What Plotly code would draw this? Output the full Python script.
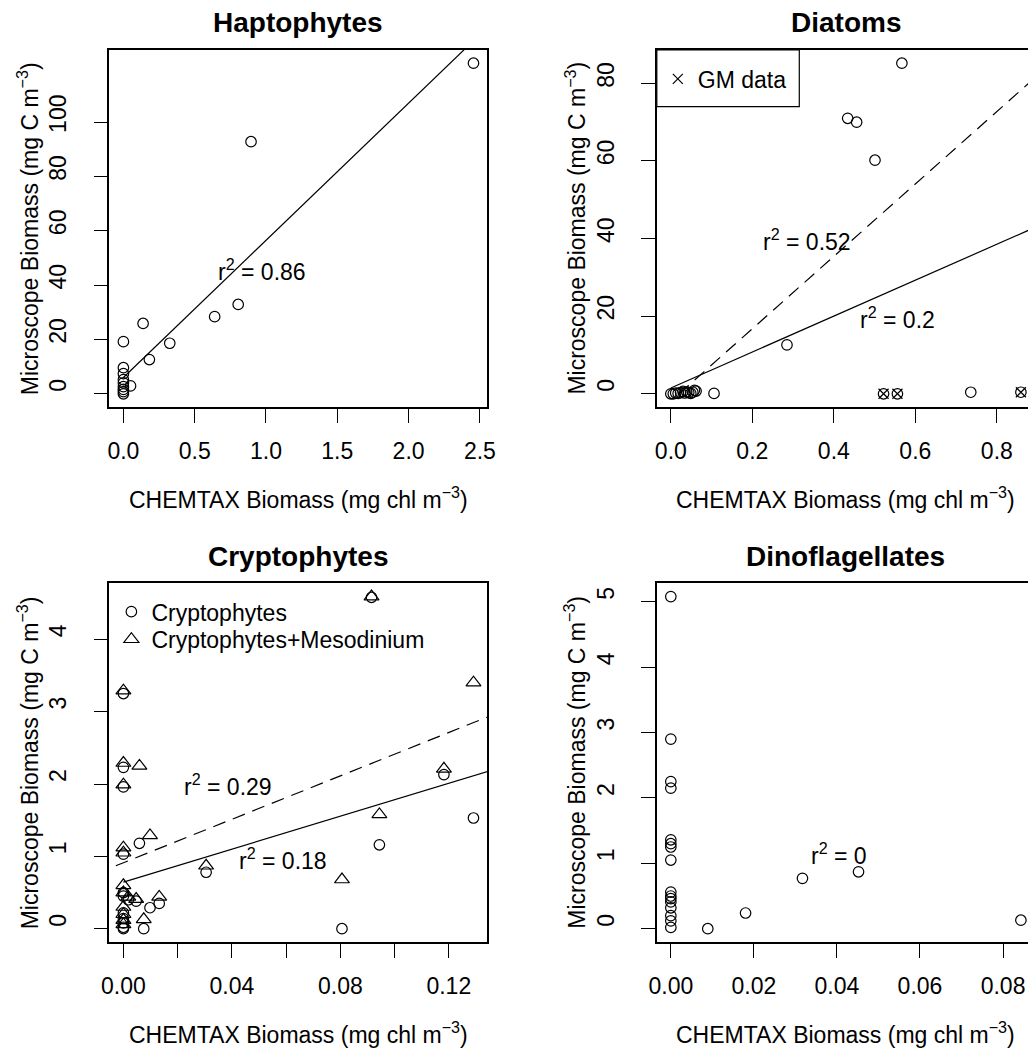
import plotly.graph_objects as go

W, H = 1036, 1059
FONT = "Liberation Sans, Arial, Helvetica, sans-serif"
BASE = 23
TITLE_SIZE = 28

# ---------------- data ----------------
hapto_x = [2.455, 0.895, 0.805, 0.640, 0.138, 0.325, 0.000, 0.182, 0.000, 0.000,
           0.000, 0.000, 0.000, 0.050, 0.000, 0.000, 0.000]
hapto_y = [121.7, 92.8, 32.9, 28.4, 25.9, 18.6, 19.2, 12.6, 9.6, 7.4,
           5.2, 4.0, 2.6, 2.9, 1.6, 0.8, 0.0]
hapto_fit = {"intercept": 6.0, "slope": 50.5, "x": [0.0, 2.455], "r2": "0.86"}
hapto_label = [0.975, 45.5]

diatom_x = [0.567, 0.434, 0.456, 0.501, 0.285, 0.106, 0.736, 0.522, 0.556, 0.859,
            0.000, 0.006, 0.012, 0.018, 0.024, 0.030, 0.034, 0.039, 0.044, 0.049,
            0.054, 0.058, 0.062]
diatom_y = [85.2, 71.0, 70.0, 60.2, 12.6, 0.1, 0.4, 0.0, 0.0, 0.4,
            0.0, 0.0, 0.2, 0.1, 0.3, 0.6, 0.2, 0.5, 0.3, 0.1,
            0.4, 0.9, 0.7]
gm_x = [0.522, 0.556, 0.859]
gm_y = [0.0, 0.0, 0.4]
diatom_fit_all = {"intercept": 1.5, "slope": 46.3, "x": [0.0, 0.95], "r2": "0.2"}
diatom_fit_nogm = {"intercept": -1.9, "slope": 93.3, "x": [0.02, 0.95], "r2": "0.52"}
diatom_label_all = [0.555, 19.5]
diatom_label_nogm = [0.335, 39.7]

crypto_x = [0.1291, 0.0944, 0.1182, 0.0915, 0.0806, 0.0305, 0.0132, 0.0098, 0.0059, 0.0075,
            0.0047, 0.0018, 0.0, 0.0, 0.0, 0.0, 0.0, 0.0, 0.0, 0.0,
            0.0, 0.0, 0.0]
crypto_y = [1.53, 1.16, 2.13, 4.58, 0.00, 0.78, 0.35, 0.29, 1.18, 0.00,
            0.38, 0.40, 3.25, 2.23, 1.96, 1.03, 0.50, 0.45, 0.22, 0.14,
            0.08, 0.02, 0.00]
cryptomeso_y = [3.40, 1.58, 2.21, 4.59, 0.68, 0.87, 0.44, 1.29, 2.25, 0.13,
                0.41, 0.44, 3.29, 2.29, 1.99, 1.12, 0.60, 0.50, 0.30, 0.20,
                0.12, 0.06, 1.05]
crypto_fit = {"intercept": 0.643, "slope": 11.4, "x": [0.0, 0.14], "r2": "0.18"}
cryptomeso_fit = {"intercept": 0.912, "slope": 15.0, "x": [-0.01, 0.14], "r2": "0.29"}
crypto_label = [0.0588, 0.965]
cryptomeso_label = [0.0387, 1.99]

dino_x = [0.0, 0.0, 0.0, 0.0, 0.0, 0.0, 0.0, 0.0, 0.0, 0.0,
          0.0, 0.0, 0.0, 0.0, 0.0, 0.0, 0.0089, 0.018, 0.0317, 0.0452, 0.0843]
dino_y = [5.08, 2.90, 2.25, 2.15, 1.36, 1.30, 1.25, 1.05, 0.56, 0.50,
          0.46, 0.41, 0.32, 0.20, 0.12, 0.02, 0.00, 0.24, 0.77, 0.87, 0.13]
dino_r2 = "0"
dino_label = [0.0405, 1.15]

titles = ["Haptophytes", "Diatoms", "Cryptophytes", "Dinoflagellates"]
xlab = "CHEMTAX Biomass (mg chl m<sup>\u22123</sup>)"
ylab = "Microscope Biomass (mg C m<sup>\u22123</sup>)"

hapto_xticks = [0.0, 0.5, 1.0, 1.5, 2.0, 2.5]
hapto_yticks = [0, 20, 40, 60, 80, 100]
diatom_xticks = [0.0, 0.2, 0.4, 0.6, 0.8]
diatom_yticks = [0, 20, 40, 60, 80]
crypto_xticks = [0.00, 0.02, 0.04, 0.06, 0.08, 0.10, 0.12]
crypto_xticklabels = ["0.00", "", "0.04", "", "0.08", "", "0.12"]
crypto_yticks = [0, 1, 2, 3, 4]
dino_xticks = [0.00, 0.02, 0.04, 0.06, 0.08]
dino_yticks = [0, 1, 2, 3, 4, 5]

# ---------------- layout geometry (pixels) ----------------
# plot frames: left, right(virtual), top, bottom
frames = [
    (103, 487, 50, 407),
    (659, 1043, 50, 407),
    (103, 487, 583.3, 942),
    (659, 1043, 583.3, 942),
]


def rrange(*series):
    lo = min(min(s) for s in series)
    hi = max(max(s) for s in series)
    d = (hi - lo) * 0.04
    return [lo - d, hi + d]


xr = [rrange(hapto_x), rrange(diatom_x), rrange(crypto_x), rrange(dino_x)]
yr = [rrange(hapto_y), rrange(diatom_y), rrange(crypto_y, cryptomeso_y), rrange(dino_y)]

fig = go.Figure()

circ = dict(symbol="circle-open", size=10.5, color="black", line=dict(color="black", width=1.2))
tri = dict(symbol="triangle-up-open", size=13, color="black", line=dict(color="black", width=1.2))
xm = dict(symbol="x-thin-open", size=10, color="black", line=dict(color="black", width=1.2))


def fit_line(fit, axis, dash):
    xs = fit["x"]
    ys = [fit["intercept"] + fit["slope"] * v for v in xs]
    fig.add_trace(go.Scatter(x=xs, y=ys, mode="lines", xaxis="x" + axis, yaxis="y" + axis,
                             line=dict(color="black", width=1.2, dash=dash),
                             showlegend=False, hoverinfo="skip"))


# Haptophytes
fig.add_trace(go.Scatter(x=hapto_x, y=hapto_y, mode="markers", marker=circ,
                         xaxis="x", yaxis="y", showlegend=False))
fit_line(hapto_fit, "", "solid")

# Diatoms
fig.add_trace(go.Scatter(x=diatom_x, y=diatom_y, mode="markers", marker=circ,
                         xaxis="x2", yaxis="y2", showlegend=False))
fig.add_trace(go.Scatter(x=gm_x, y=gm_y, mode="markers", marker=xm, name="GM data",
                         xaxis="x2", yaxis="y2", showlegend=True, legend="legend"))
fit_line(diatom_fit_all, "2", "solid")
fit_line(diatom_fit_nogm, "2", "13px,8px")

# Cryptophytes
fig.add_trace(go.Scatter(x=crypto_x, y=crypto_y, mode="markers", marker=circ, name="Cryptophytes",
                         xaxis="x3", yaxis="y3", showlegend=True, legend="legend2"))
fig.add_trace(go.Scatter(x=crypto_x, y=cryptomeso_y, mode="markers", marker=tri,
                         name="Cryptophytes+Mesodinium",
                         xaxis="x3", yaxis="y3", showlegend=True, legend="legend3"))
fit_line(crypto_fit, "3", "solid")
fit_line(cryptomeso_fit, "3", "13px,8px")

# Dinoflagellates
fig.add_trace(go.Scatter(x=dino_x, y=dino_y, mode="markers", marker=circ,
                         xaxis="x4", yaxis="y4", showlegend=False))

axis_common = dict(showgrid=False, zeroline=False, showline=True, linecolor="black", linewidth=1.5,
                   ticks="outside", ticklen=14, tickwidth=1.2, tickcolor="black",
                   tickfont=dict(family=FONT, size=BASE, color="black"))

xtick_sets = [
    (hapto_xticks, [f"{v:.1f}" for v in hapto_xticks]),
    (diatom_xticks, [f"{v:.1f}" for v in diatom_xticks]),
    (crypto_xticks, crypto_xticklabels),
    (dino_xticks, [f"{v:.2f}" for v in dino_xticks]),
]
ytick_sets = [hapto_yticks, diatom_yticks, crypto_yticks, dino_yticks]

layout = dict(width=W, height=H, margin=dict(l=0, r=0, t=0, b=0),
              paper_bgcolor="white", plot_bgcolor="white",
              font=dict(family=FONT, size=BASE, color="black"))

annotations = []
shapes = []
for i, (l, r, t, b) in enumerate(frames):
    sfx = "" if i == 0 else str(i + 1)
    vis_r = min(r, W)
    x_lo, x_hi = xr[i]
    x_hi_vis = x_lo + (x_hi - x_lo) * (vis_r - l) / (r - l)
    xdom = [l / W, vis_r / W]
    ydom = [1 - b / H, 1 - t / H]
    tv, tt = xtick_sets[i]
    layout["xaxis" + sfx] = dict(axis_common, domain=xdom, range=[x_lo, x_hi_vis],
                                 anchor="y" + sfx, mirror=True,
                                 tickvals=tv, ticktext=tt, ticklabelstandoff=9)
    layout["yaxis" + sfx] = dict(axis_common, domain=ydom, range=yr[i],
                                 anchor="x" + sfx, mirror=(r <= W),
                                 tickvals=ytick_sets[i],
                                 ticktext=[str(v) for v in ytick_sets[i]],
                                 tickangle=-90, ticklabelstandoff=18, ticklabelshift=-5)
    cx = (l + r) / 2
    cy = (t + b) / 2
    # panel title
    annotations.append(dict(text="<b>%s</b>" % titles[i], xref="paper", yref="paper",
                            x=cx / W, y=1 - (t - 27) / H, xanchor="center", yanchor="middle",
                            showarrow=False, font=dict(family=FONT, size=TITLE_SIZE, color="black")))
    # x label
    annotations.append(dict(text=xlab, xref="paper", yref="paper",
                            x=cx / W, y=1 - (b + 91) / H, xanchor="center", yanchor="middle",
                            showarrow=False, font=dict(family=FONT, size=BASE, color="black")))
    # y label
    annotations.append(dict(text=ylab, xref="paper", yref="paper", textangle=-90,
                            x=(l - 83) / W, y=1 - cy / H, xanchor="center", yanchor="middle",
                            showarrow=False, font=dict(family=FONT, size=BASE, color="black")))

# r^2 labels in data coordinates
r2_labels = [
    ("", hapto_label, hapto_fit["r2"]),
    ("2", diatom_label_nogm, diatom_fit_nogm["r2"]),
    ("2", diatom_label_all, diatom_fit_all["r2"]),
    ("3", cryptomeso_label, cryptomeso_fit["r2"]),
    ("3", crypto_label, crypto_fit["r2"]),
    ("4", dino_label, dino_r2),
]
for sfx, pos, txt in r2_labels:
    annotations.append(dict(text="r<sup>2</sup> = " + txt, xref="x" + sfx, yref="y" + sfx,
                            x=pos[0], y=pos[1], xanchor="center", yanchor="middle",
                            showarrow=False, font=dict(family=FONT, size=BASE, color="black")))

# legend box for diatoms panel
l, r, t, b = frames[1]
shapes.append(dict(type="rect", xref="paper", yref="paper", x0=l / W, x1=803.7 / W,
                   y0=1 - 106.7 / H, y1=1 - t / H, line=dict(color="black", width=1.2),
                   fillcolor="white", layer="above"))

layout["annotations"] = annotations
layout["shapes"] = shapes
leg_common = dict(xanchor="left", yanchor="middle", bgcolor="rgba(0,0,0,0)", borderwidth=0,
                  font=dict(family=FONT, size=BASE, color="black"))
layout["legend"] = dict(leg_common, x=(l + 1) / W, y=1 - 79 / H)
l3, r3, t3, b3 = frames[2]
layout["legend2"] = dict(leg_common, x=(l3 + 2) / W, y=1 - 611.7 / H)
layout["legend3"] = dict(leg_common, x=(l3 + 2) / W, y=1 - 639.3 / H)

fig.update_layout(**layout)
fig.write_html("out.html")
